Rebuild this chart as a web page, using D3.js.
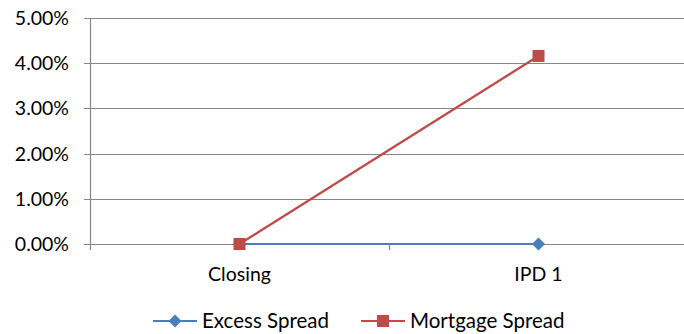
<!DOCTYPE html>
<html><head><meta charset="utf-8">
<script src="https://cdn.jsdelivr.net/npm/d3@7"></script>
<style>body{margin:0;background:#fff}svg{display:block}text{font-family:Lato,"Open Sans",sans-serif;fill:#000}</style>
</head><body><svg id="c" width="684" height="334"></svg>
<script>
const categories = ["Closing", "IPD 1"];
const excessSpread = [0, 0];
const mortgageSpread = [0, 0.0416];
const yTicks = [0, 0.01, 0.02, 0.03, 0.04, 0.05];
const seriesNames = ["Excess Spread", "Mortgage Spread"];
const colors = ["#4a7ebb", "#be4b48"];

(function () {
const svg = d3.select("#c");
const pLeft = 90, pRight = 688, pTop = 18, pBottom = 244;
const fs = 19.5;
const x = d3.scaleBand().domain(categories).range([pLeft, pRight]);
const y = d3.scaleLinear().domain([0, 0.05]).range([pBottom, pTop]);
const fmt = d3.format(".2%");
const diamond = "M0,-6.5L6.5,0L0,6.5L-6.5,0Z";

svg.append("g").selectAll("line").data(yTicks).join("line")
  .attr("x1", pLeft - 6).attr("x2", 684)
  .attr("y1", d => Math.round(y(d)) + 0.5).attr("y2", d => Math.round(y(d)) + 0.5)
  .attr("stroke", "#868686").attr("stroke-width", 1.2);
svg.append("line").attr("x1", pLeft + 0.5).attr("x2", pLeft + 0.5).attr("y1", pTop).attr("y2", pBottom + 0.5)
  .attr("stroke", "#868686").attr("stroke-width", 1.2);
svg.append("g").selectAll("text").data(yTicks).join("text")
  .attr("x", 69).attr("y", d => y(d)).attr("dy", "0.36em").attr("text-anchor", "end")
  .attr("font-size", fs).text(d => fmt(d));
const bounds = [pLeft, pLeft + x.bandwidth(), pRight];
svg.append("g").selectAll("line").data(bounds).join("line")
  .attr("x1", d => Math.round(d) + 0.5).attr("x2", d => Math.round(d) + 0.5)
  .attr("y1", pBottom).attr("y2", pBottom + 6).attr("stroke", "#868686").attr("stroke-width", 1.2);
svg.append("g").selectAll("text").data(categories).join("text")
  .attr("x", d => x(d) + x.bandwidth() / 2).attr("y", 281).attr("text-anchor", "middle")
  .attr("font-size", fs).text(d => d);

const cx = d => x(d) + x.bandwidth() / 2;
const line = d3.line().x((d, i) => cx(categories[i])).y(d => y(d));
[excessSpread, mortgageSpread].forEach((s, k) => {
  svg.append("path").datum(s).attr("d", line).attr("fill", "none")
    .attr("stroke", colors[k]).attr("stroke-width", 2.2);
});
svg.append("g").selectAll("path").data(excessSpread).join("path")
  .attr("transform", (d, i) => `translate(${cx(categories[i])},${y(d)})`)
  .attr("d", diamond).attr("fill", colors[0]);
svg.append("g").selectAll("rect").data(mortgageSpread).join("rect")
  .attr("x", (d, i) => cx(categories[i]) - 6).attr("y", d => y(d) - 6)
  .attr("width", 12).attr("height", 12).attr("fill", colors[1]);

const lg = [{x: 153, tx: 202, name: seriesNames[0], c: colors[0], m: "d"}, {x: 361, tx: 410, name: seriesNames[1], c: colors[1], m: "s"}];
lg.forEach(l => {
  const g = svg.append("g");
  g.append("line").attr("x1", l.x).attr("x2", l.x + 44).attr("y1", 321).attr("y2", 321)
    .attr("stroke", l.c).attr("stroke-width", 2.2);
  if (l.m === "d") g.append("path").attr("transform", `translate(${l.x + 22},321)`)
    .attr("d", diamond).attr("fill", l.c);
  else g.append("rect").attr("x", l.x + 16).attr("y", 315).attr("width", 12).attr("height", 12).attr("fill", l.c);
  g.append("text").attr("x", l.tx).attr("y", 321).attr("dy", "0.36em").attr("font-size", 20.5).text(l.name);
});
})();
</script></body></html>
